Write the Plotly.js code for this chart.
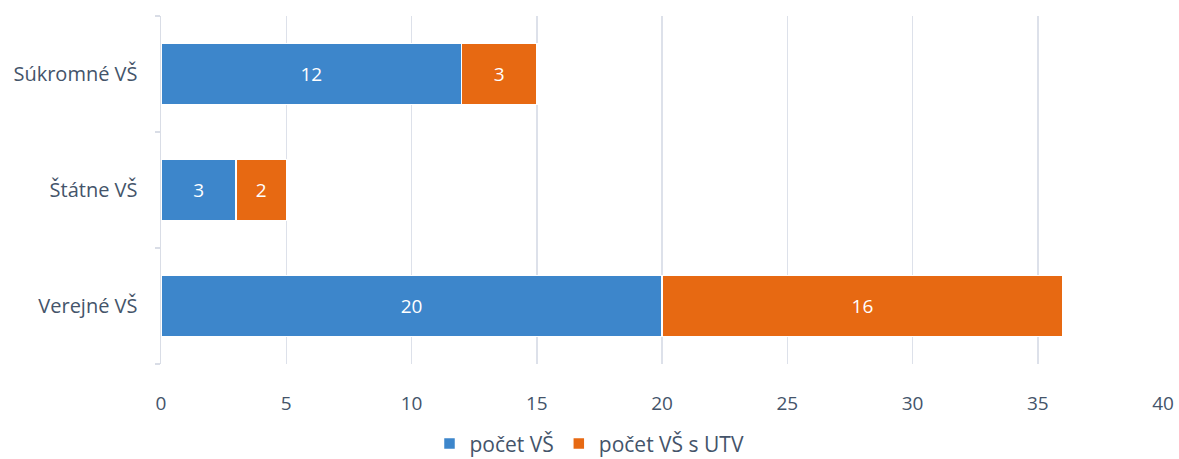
<!DOCTYPE html>
<html>
<head>
<meta charset="utf-8">
<script src="https://cdn.plot.ly/plotly-3.0.1.min.js"></script>
<style>html,body{margin:0;padding:0;background:#fff;}#chart{width:1179px;height:459px;}</style>
</head>
<body>
<div id="chart"></div>
<script>
var categories = ["Verejné VŠ", "Štátne VŠ", "Súkromné VŠ"];
var pocetVS = [20, 3, 12];
var pocetVSsUTV = [16, 2, 3];
var seriesNames = ["počet VŠ", "počet VŠ s UTV"];
var xTicks = [0, 5, 10, 15, 20, 25, 30, 35, 40];

var fontFam = "Open Sans, Liberation Sans, sans-serif";
var textCol = "#44546a";

var traces = [
  {
    type: "bar", orientation: "h", name: seriesNames[0],
    y: categories, x: pocetVS,
    text: pocetVS.map(String), textposition: "inside", insidetextanchor: "middle",
    textfont: {color: "#ffffff", size: 19, family: fontFam},
    marker: {color: "#3d86cb", line: {color: "#ffffff", width: 1.5}},
    hoverinfo: "x+y"
  },
  {
    type: "bar", orientation: "h", name: seriesNames[1],
    y: categories, x: pocetVSsUTV,
    text: pocetVSsUTV.map(String), textposition: "inside", insidetextanchor: "middle",
    textfont: {color: "#ffffff", size: 19, family: fontFam},
    marker: {color: "#e76912", line: {color: "#ffffff", width: 1.5}},
    hoverinfo: "x+y"
  }
];

var layout = {
  width: 1179, height: 459,
  margin: {l: 161, r: 16, t: 16, b: 95},
  barmode: "stack",
  bargap: 0.47,
  paper_bgcolor: "#ffffff", plot_bgcolor: "#ffffff",
  font: {family: fontFam, color: textCol, size: 19},
  showlegend: true,
  legend: {orientation: "h", x: 0.5, xanchor: "center", xref: "container",
           y: 0.033, yanchor: "middle", yref: "container",
           font: {size: 21, color: textCol, family: fontFam}, traceorder: "normal", itemwidth: 30},
  xaxis: {
    range: [0, 40], tickvals: xTicks, ticktext: xTicks.map(String),
    showgrid: true, gridcolor: "#dde1ea", gridwidth: 1.5,
    zeroline: false, showline: false,
    ticks: "outside", ticklen: 22, tickcolor: "rgba(0,0,0,0)",
    tickfont: {size: 19, color: textCol}, fixedrange: true
  },
  yaxis: {
    type: "category", categoryorder: "array", categoryarray: categories,
    showline: true, linecolor: "#d9dde6", linewidth: 1.5,
    ticks: "outside", tickson: "boundaries", ticklen: 5, tickcolor: "#d9dde6", tickwidth: 1.5,
    ticklabelstandoff: 18,
    showgrid: false, zeroline: false,
    tickfont: {size: 20, color: textCol}, fixedrange: true
  }
};

Plotly.newPlot("chart", traces, layout, {displayModeBar: false, staticPlot: true});
</script>
</body>
</html>
